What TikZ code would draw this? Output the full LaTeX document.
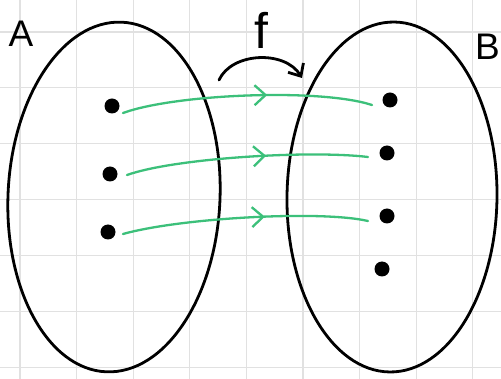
\documentclass[tikz,border=0pt]{standalone}
\usepackage{fontspec}
\setmainfont{Liberation Sans}
\usetikzlibrary{arrows.meta,decorations.markings}
\definecolor{gridgray}{RGB}{225,225,225}
\definecolor{mapgreen}{RGB}{60,192,122}
\tikzset{
  dotnode/.style={circle,fill=black,inner sep=0pt,minimum size=15pt},
  setline/.style={line width=2.8pt,black},
  mapline/.style={line width=2.3pt,mapgreen,line cap=round,
    postaction={decorate},
    decoration={markings,mark=at position 0.58 with {\arrow[line width=2.3pt]{Straight Barb[length=11pt,width=20pt]}}}},
  labeltext/.style={font=\fontsize{37}{37}\selectfont,inner sep=0pt},
}
\begin{document}
\begin{tikzpicture}[x=1pt,y=-1pt]
\useasboundingbox (0,0) rectangle (501,379);
\fill[white] (0,0) rectangle (501,379);
% grid
\foreach \gx in {20,76.6,133.2,189.8,246.4,303,359.6,416.2,472.8}
  \draw[gridgray,line width=1.2pt] (\gx,0) -- (\gx,379);
\foreach \gy in {32,87.9,143.8,199.7,255.6,311.5,367.4}
  \draw[gridgray,line width=1.2pt] (0,\gy) -- (501,\gy);
% sets
\draw[setline] (114,197) ellipse [x radius=106, y radius=175, rotate=-2.6];
\draw[setline] (392,197) ellipse [x radius=105, y radius=175, rotate=-0.8];
% labels
\node[labeltext] (labA) at (21,34) {A};
\node[labeltext,anchor=east] (labB) at (500,47) {B};
\node[labeltext,font=\fontsize{50}{50}\selectfont] (labf) at (261,30) {f};
% dots
\node[dotnode] (a1) at (112,106) {};
\node[dotnode] (a2) at (110,174) {};
\node[dotnode] (a3) at (108,232) {};
\node[dotnode] (b1) at (390,100) {};
\node[dotnode] (b2) at (387,153) {};
\node[dotnode] (b3) at (387,216) {};
\node[dotnode] (b4) at (382,269) {};
% maps
\draw[mapline] ([shift={(11,7)}]a1.center) .. controls (175,94) and (320,88) .. ([shift={(-18,5)}]b1.center);
\draw[mapline] ([shift={(17,1)}]a2.center) .. controls (175,158) and (310,150) .. ([shift={(-19,4)}]b2.center);
\draw[mapline] ([shift={(15,2)}]a3.center) .. controls (180,218) and (320,210) .. ([shift={(-19,5)}]b3.center);
% f arrow
\coordinate (fs) at (219,80);
\coordinate (fe) at (302,78);
\draw[line width=2.8pt,line cap=round,-{Straight Barb[length=10pt,width=18pt]}] (fs) .. controls (232,52) and (285,50) .. (fe);
\end{tikzpicture}
\end{document}
